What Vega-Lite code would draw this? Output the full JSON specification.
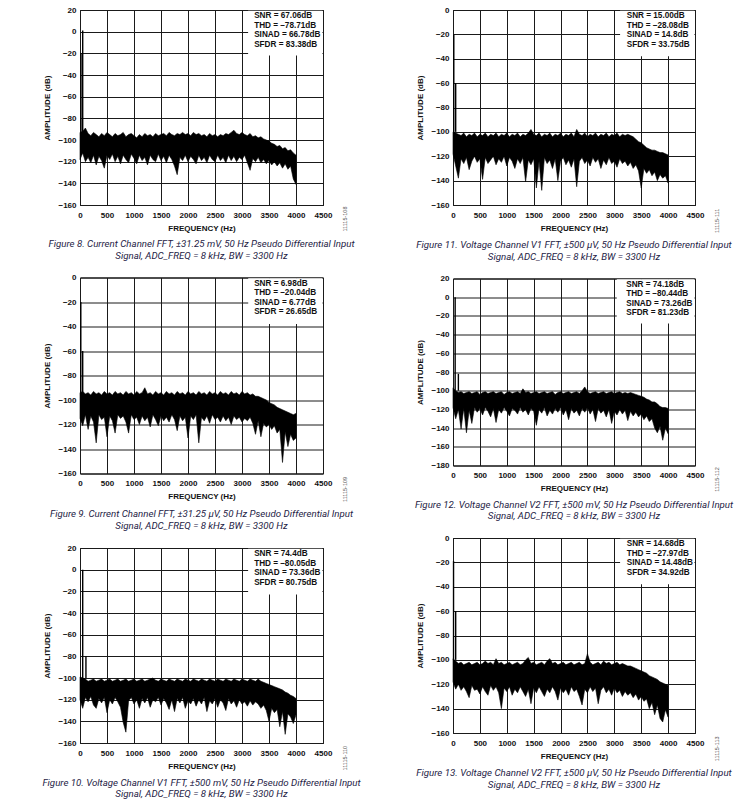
{
"$schema": "https://vega.github.io/schema/vega-lite/v6.json",
"background": "white",
"padding": {"left": 41, "top": 5, "right": 5, "bottom": 5},
"config": {
  "view": {"stroke": "black", "strokeWidth": 1},
  "axis": {"grid": true, "gridColor": "#1a1a1a", "gridWidth": 1, "gridOpacity": 1, "ticks": false, "tickSize": 0, "tickCount": 30, "format": "d", "domain": false, "labelOverlap": false,
    "labelFont": "Liberation Sans", "labelFontWeight": "bold", "labelFontSize": 8, "labelColor": "#111",
    "titleFont": "Liberation Sans", "titleFontWeight": "bold", "titleFontSize": 8, "titleColor": "#111"},
  "axisX": {"labelPadding": 6, "titlePadding": 5, "labelFlush": false},
  "axisY": {"labelPadding": 4, "titlePadding": 6},
  "title": {"orient": "bottom", "font": "Roboto", "fontStyle": "italic", "fontWeight": "normal", "fontSize": 9.7, "color": "#1e2245", "lineHeight": 11.7, "offset": 7, "anchor": "middle"},
  "text": {"font": "Liberation Sans"}
},
"datasets": {
"n1": [{"f":0,"hi":-93,"lo":-118},{"f":50,"hi":-92,"lo":-112},{"f":100,"hi":-89,"lo":-120},{"f":150,"hi":-94,"lo":-116},{"f":200,"hi":-96,"lo":-121},{"f":250,"hi":-93,"lo":-114},{"f":300,"hi":-95,"lo":-123},{"f":350,"hi":-97,"lo":-115},{"f":400,"hi":-94,"lo":-119},{"f":450,"hi":-96,"lo":-126},{"f":500,"hi":-93,"lo":-114},{"f":550,"hi":-95,"lo":-118},{"f":600,"hi":-97,"lo":-113},{"f":650,"hi":-94,"lo":-120},{"f":700,"hi":-96,"lo":-115},{"f":750,"hi":-95,"lo":-122},{"f":800,"hi":-93,"lo":-114},{"f":850,"hi":-97,"lo":-118},{"f":900,"hi":-95,"lo":-121},{"f":950,"hi":-94,"lo":-113},{"f":1000,"hi":-96,"lo":-117},{"f":1050,"hi":-98,"lo":-122},{"f":1100,"hi":-95,"lo":-114},{"f":1150,"hi":-97,"lo":-119},{"f":1200,"hi":-94,"lo":-116},{"f":1250,"hi":-96,"lo":-123},{"f":1300,"hi":-95,"lo":-114},{"f":1350,"hi":-97,"lo":-118},{"f":1400,"hi":-94,"lo":-120},{"f":1450,"hi":-96,"lo":-113},{"f":1500,"hi":-95,"lo":-119},{"f":1550,"hi":-94,"lo":-115},{"f":1600,"hi":-96,"lo":-121},{"f":1650,"hi":-93,"lo":-114},{"f":1700,"hi":-95,"lo":-118},{"f":1750,"hi":-96,"lo":-124},{"f":1800,"hi":-94,"lo":-132},{"f":1850,"hi":-95,"lo":-116},{"f":1900,"hi":-93,"lo":-119},{"f":1950,"hi":-95,"lo":-114},{"f":2000,"hi":-94,"lo":-120},{"f":2050,"hi":-96,"lo":-115},{"f":2100,"hi":-93,"lo":-118},{"f":2150,"hi":-95,"lo":-122},{"f":2200,"hi":-94,"lo":-114},{"f":2250,"hi":-96,"lo":-119},{"f":2300,"hi":-95,"lo":-116},{"f":2350,"hi":-97,"lo":-121},{"f":2400,"hi":-94,"lo":-114},{"f":2450,"hi":-96,"lo":-118},{"f":2500,"hi":-95,"lo":-120},{"f":2550,"hi":-97,"lo":-114},{"f":2600,"hi":-95,"lo":-119},{"f":2650,"hi":-96,"lo":-116},{"f":2700,"hi":-94,"lo":-121},{"f":2750,"hi":-95,"lo":-114},{"f":2800,"hi":-93,"lo":-119},{"f":2850,"hi":-91,"lo":-115},{"f":2900,"hi":-94,"lo":-120},{"f":2950,"hi":-95,"lo":-116},{"f":3000,"hi":-93,"lo":-118},{"f":3050,"hi":-95,"lo":-114},{"f":3100,"hi":-96,"lo":-121},{"f":3150,"hi":-94,"lo":-128},{"f":3200,"hi":-97,"lo":-117},{"f":3250,"hi":-96,"lo":-120},{"f":3300,"hi":-98,"lo":-116},{"f":3350,"hi":-97,"lo":-121},{"f":3400,"hi":-99,"lo":-118},{"f":3450,"hi":-100,"lo":-122},{"f":3500,"hi":-101,"lo":-119},{"f":3550,"hi":-103,"lo":-123},{"f":3600,"hi":-104,"lo":-120},{"f":3650,"hi":-106,"lo":-124},{"f":3700,"hi":-105,"lo":-121},{"f":3750,"hi":-108,"lo":-126},{"f":3800,"hi":-107,"lo":-122},{"f":3850,"hi":-110,"lo":-127},{"f":3900,"hi":-109,"lo":-124},{"f":3950,"hi":-112,"lo":-136},{"f":4000,"hi":-114,"lo":-141}],
"n2": [{"f":0,"hi":-100,"lo":-118},{"f":50,"hi":-101,"lo":-128},{"f":100,"hi":-102,"lo":-138},{"f":150,"hi":-103,"lo":-122},{"f":200,"hi":-101,"lo":-126},{"f":250,"hi":-104,"lo":-121},{"f":300,"hi":-102,"lo":-131},{"f":350,"hi":-103,"lo":-124},{"f":400,"hi":-101,"lo":-120},{"f":450,"hi":-104,"lo":-125},{"f":500,"hi":-102,"lo":-122},{"f":550,"hi":-103,"lo":-139},{"f":600,"hi":-101,"lo":-121},{"f":650,"hi":-104,"lo":-126},{"f":700,"hi":-102,"lo":-123},{"f":750,"hi":-103,"lo":-120},{"f":800,"hi":-101,"lo":-127},{"f":850,"hi":-104,"lo":-122},{"f":900,"hi":-102,"lo":-125},{"f":950,"hi":-103,"lo":-120},{"f":1000,"hi":-101,"lo":-128},{"f":1050,"hi":-104,"lo":-121},{"f":1100,"hi":-102,"lo":-124},{"f":1150,"hi":-103,"lo":-130},{"f":1200,"hi":-101,"lo":-122},{"f":1250,"hi":-104,"lo":-126},{"f":1300,"hi":-102,"lo":-121},{"f":1350,"hi":-103,"lo":-141},{"f":1400,"hi":-101,"lo":-123},{"f":1450,"hi":-98,"lo":-127},{"f":1500,"hi":-102,"lo":-122},{"f":1550,"hi":-103,"lo":-146},{"f":1600,"hi":-101,"lo":-124},{"f":1650,"hi":-104,"lo":-148},{"f":1700,"hi":-102,"lo":-121},{"f":1750,"hi":-103,"lo":-126},{"f":1800,"hi":-101,"lo":-123},{"f":1850,"hi":-104,"lo":-130},{"f":1900,"hi":-102,"lo":-122},{"f":1950,"hi":-103,"lo":-140},{"f":2000,"hi":-101,"lo":-124},{"f":2050,"hi":-104,"lo":-121},{"f":2100,"hi":-102,"lo":-127},{"f":2150,"hi":-103,"lo":-123},{"f":2200,"hi":-101,"lo":-129},{"f":2250,"hi":-104,"lo":-122},{"f":2300,"hi":-98,"lo":-145},{"f":2350,"hi":-102,"lo":-124},{"f":2400,"hi":-103,"lo":-121},{"f":2450,"hi":-101,"lo":-126},{"f":2500,"hi":-104,"lo":-123},{"f":2550,"hi":-102,"lo":-128},{"f":2600,"hi":-103,"lo":-121},{"f":2650,"hi":-101,"lo":-125},{"f":2700,"hi":-104,"lo":-122},{"f":2750,"hi":-102,"lo":-130},{"f":2800,"hi":-103,"lo":-123},{"f":2850,"hi":-101,"lo":-127},{"f":2900,"hi":-104,"lo":-121},{"f":2950,"hi":-102,"lo":-126},{"f":3000,"hi":-103,"lo":-124},{"f":3050,"hi":-101,"lo":-129},{"f":3100,"hi":-104,"lo":-122},{"f":3150,"hi":-102,"lo":-126},{"f":3200,"hi":-103,"lo":-124},{"f":3250,"hi":-102,"lo":-128},{"f":3300,"hi":-103,"lo":-125},{"f":3350,"hi":-104,"lo":-130},{"f":3400,"hi":-106,"lo":-127},{"f":3450,"hi":-108,"lo":-132},{"f":3500,"hi":-109,"lo":-146},{"f":3550,"hi":-111,"lo":-130},{"f":3600,"hi":-113,"lo":-134},{"f":3650,"hi":-114,"lo":-131},{"f":3700,"hi":-115,"lo":-136},{"f":3750,"hi":-115,"lo":-133},{"f":3800,"hi":-116,"lo":-140},{"f":3850,"hi":-117,"lo":-135},{"f":3900,"hi":-117,"lo":-138},{"f":3950,"hi":-118,"lo":-136},{"f":4000,"hi":-119,"lo":-142}],
"n3": [{"f":0,"hi":-94,"lo":-115},{"f":50,"hi":-93,"lo":-121},{"f":100,"hi":-95,"lo":-112},{"f":150,"hi":-94,"lo":-124},{"f":200,"hi":-96,"lo":-113},{"f":250,"hi":-93,"lo":-118},{"f":300,"hi":-95,"lo":-135},{"f":350,"hi":-94,"lo":-112},{"f":400,"hi":-96,"lo":-116},{"f":450,"hi":-93,"lo":-114},{"f":500,"hi":-95,"lo":-130},{"f":550,"hi":-94,"lo":-113},{"f":600,"hi":-96,"lo":-117},{"f":650,"hi":-93,"lo":-127},{"f":700,"hi":-95,"lo":-112},{"f":750,"hi":-94,"lo":-115},{"f":800,"hi":-96,"lo":-113},{"f":850,"hi":-93,"lo":-118},{"f":900,"hi":-95,"lo":-127},{"f":950,"hi":-94,"lo":-112},{"f":1000,"hi":-96,"lo":-116},{"f":1050,"hi":-93,"lo":-114},{"f":1100,"hi":-95,"lo":-120},{"f":1150,"hi":-94,"lo":-113},{"f":1200,"hi":-90,"lo":-117},{"f":1250,"hi":-95,"lo":-114},{"f":1300,"hi":-94,"lo":-122},{"f":1350,"hi":-96,"lo":-112},{"f":1400,"hi":-93,"lo":-116},{"f":1450,"hi":-95,"lo":-121},{"f":1500,"hi":-94,"lo":-113},{"f":1550,"hi":-96,"lo":-117},{"f":1600,"hi":-93,"lo":-114},{"f":1650,"hi":-95,"lo":-118},{"f":1700,"hi":-94,"lo":-112},{"f":1750,"hi":-96,"lo":-116},{"f":1800,"hi":-93,"lo":-125},{"f":1850,"hi":-95,"lo":-113},{"f":1900,"hi":-94,"lo":-117},{"f":1950,"hi":-96,"lo":-114},{"f":2000,"hi":-93,"lo":-131},{"f":2050,"hi":-95,"lo":-113},{"f":2100,"hi":-94,"lo":-116},{"f":2150,"hi":-96,"lo":-112},{"f":2200,"hi":-93,"lo":-135},{"f":2250,"hi":-95,"lo":-114},{"f":2300,"hi":-94,"lo":-117},{"f":2350,"hi":-96,"lo":-113},{"f":2400,"hi":-93,"lo":-119},{"f":2450,"hi":-95,"lo":-112},{"f":2500,"hi":-94,"lo":-116},{"f":2550,"hi":-96,"lo":-114},{"f":2600,"hi":-93,"lo":-118},{"f":2650,"hi":-95,"lo":-113},{"f":2700,"hi":-94,"lo":-117},{"f":2750,"hi":-96,"lo":-114},{"f":2800,"hi":-93,"lo":-120},{"f":2850,"hi":-95,"lo":-113},{"f":2900,"hi":-94,"lo":-116},{"f":2950,"hi":-96,"lo":-114},{"f":3000,"hi":-93,"lo":-118},{"f":3050,"hi":-95,"lo":-115},{"f":3100,"hi":-94,"lo":-117},{"f":3150,"hi":-96,"lo":-114},{"f":3200,"hi":-95,"lo":-119},{"f":3250,"hi":-97,"lo":-128},{"f":3300,"hi":-97,"lo":-117},{"f":3350,"hi":-98,"lo":-130},{"f":3400,"hi":-99,"lo":-119},{"f":3450,"hi":-100,"lo":-122},{"f":3500,"hi":-102,"lo":-120},{"f":3550,"hi":-103,"lo":-124},{"f":3600,"hi":-104,"lo":-121},{"f":3650,"hi":-106,"lo":-127},{"f":3700,"hi":-107,"lo":-124},{"f":3750,"hi":-108,"lo":-151},{"f":3800,"hi":-109,"lo":-126},{"f":3850,"hi":-110,"lo":-138},{"f":3900,"hi":-111,"lo":-128},{"f":3950,"hi":-112,"lo":-133},{"f":4000,"hi":-111,"lo":-131}],
"n4": [{"f":0,"hi":-97,"lo":-118},{"f":50,"hi":-100,"lo":-130},{"f":100,"hi":-102,"lo":-120},{"f":150,"hi":-101,"lo":-141},{"f":200,"hi":-103,"lo":-119},{"f":250,"hi":-102,"lo":-145},{"f":300,"hi":-101,"lo":-121},{"f":350,"hi":-103,"lo":-135},{"f":400,"hi":-102,"lo":-118},{"f":450,"hi":-101,"lo":-123},{"f":500,"hi":-104,"lo":-119},{"f":550,"hi":-102,"lo":-126},{"f":600,"hi":-101,"lo":-118},{"f":650,"hi":-103,"lo":-122},{"f":700,"hi":-102,"lo":-128},{"f":750,"hi":-101,"lo":-119},{"f":800,"hi":-103,"lo":-134},{"f":850,"hi":-102,"lo":-120},{"f":900,"hi":-101,"lo":-124},{"f":950,"hi":-104,"lo":-118},{"f":1000,"hi":-102,"lo":-122},{"f":1050,"hi":-101,"lo":-127},{"f":1100,"hi":-103,"lo":-119},{"f":1150,"hi":-102,"lo":-121},{"f":1200,"hi":-101,"lo":-125},{"f":1250,"hi":-103,"lo":-118},{"f":1300,"hi":-98,"lo":-123},{"f":1350,"hi":-102,"lo":-120},{"f":1400,"hi":-101,"lo":-126},{"f":1450,"hi":-103,"lo":-119},{"f":1500,"hi":-102,"lo":-122},{"f":1550,"hi":-101,"lo":-137},{"f":1600,"hi":-103,"lo":-120},{"f":1650,"hi":-102,"lo":-124},{"f":1700,"hi":-101,"lo":-118},{"f":1750,"hi":-103,"lo":-127},{"f":1800,"hi":-102,"lo":-121},{"f":1850,"hi":-101,"lo":-125},{"f":1900,"hi":-104,"lo":-119},{"f":1950,"hi":-102,"lo":-123},{"f":2000,"hi":-101,"lo":-118},{"f":2050,"hi":-103,"lo":-126},{"f":2100,"hi":-102,"lo":-120},{"f":2150,"hi":-101,"lo":-131},{"f":2200,"hi":-103,"lo":-119},{"f":2250,"hi":-102,"lo":-124},{"f":2300,"hi":-101,"lo":-121},{"f":2350,"hi":-103,"lo":-127},{"f":2400,"hi":-100,"lo":-119},{"f":2450,"hi":-96,"lo":-123},{"f":2500,"hi":-101,"lo":-118},{"f":2550,"hi":-103,"lo":-125},{"f":2600,"hi":-102,"lo":-120},{"f":2650,"hi":-101,"lo":-133},{"f":2700,"hi":-103,"lo":-119},{"f":2750,"hi":-102,"lo":-124},{"f":2800,"hi":-101,"lo":-121},{"f":2850,"hi":-103,"lo":-128},{"f":2900,"hi":-102,"lo":-120},{"f":2950,"hi":-101,"lo":-135},{"f":3000,"hi":-103,"lo":-122},{"f":3050,"hi":-102,"lo":-126},{"f":3100,"hi":-101,"lo":-120},{"f":3150,"hi":-103,"lo":-125},{"f":3200,"hi":-102,"lo":-121},{"f":3250,"hi":-103,"lo":-132},{"f":3300,"hi":-102,"lo":-122},{"f":3350,"hi":-103,"lo":-127},{"f":3400,"hi":-104,"lo":-123},{"f":3450,"hi":-105,"lo":-128},{"f":3500,"hi":-106,"lo":-125},{"f":3550,"hi":-107,"lo":-131},{"f":3600,"hi":-109,"lo":-127},{"f":3650,"hi":-110,"lo":-133},{"f":3700,"hi":-112,"lo":-130},{"f":3750,"hi":-112,"lo":-140},{"f":3800,"hi":-114,"lo":-145},{"f":3850,"hi":-117,"lo":-138},{"f":3900,"hi":-118,"lo":-153},{"f":3950,"hi":-118,"lo":-140},{"f":4000,"hi":-119,"lo":-146}],
"n5": [{"f":0,"hi":-99,"lo":-120},{"f":50,"hi":-100,"lo":-128},{"f":100,"hi":-101,"lo":-118},{"f":150,"hi":-103,"lo":-122},{"f":200,"hi":-102,"lo":-117},{"f":250,"hi":-101,"lo":-125},{"f":300,"hi":-103,"lo":-128},{"f":350,"hi":-102,"lo":-119},{"f":400,"hi":-101,"lo":-123},{"f":450,"hi":-103,"lo":-118},{"f":500,"hi":-102,"lo":-132},{"f":550,"hi":-101,"lo":-120},{"f":600,"hi":-103,"lo":-124},{"f":650,"hi":-102,"lo":-118},{"f":700,"hi":-101,"lo":-122},{"f":750,"hi":-103,"lo":-127},{"f":800,"hi":-102,"lo":-141},{"f":850,"hi":-101,"lo":-150},{"f":900,"hi":-103,"lo":-121},{"f":950,"hi":-102,"lo":-118},{"f":1000,"hi":-101,"lo":-124},{"f":1050,"hi":-103,"lo":-120},{"f":1100,"hi":-102,"lo":-128},{"f":1150,"hi":-101,"lo":-119},{"f":1200,"hi":-103,"lo":-123},{"f":1250,"hi":-102,"lo":-118},{"f":1300,"hi":-101,"lo":-127},{"f":1350,"hi":-100,"lo":-120},{"f":1400,"hi":-102,"lo":-122},{"f":1450,"hi":-103,"lo":-118},{"f":1500,"hi":-101,"lo":-125},{"f":1550,"hi":-102,"lo":-119},{"f":1600,"hi":-103,"lo":-123},{"f":1650,"hi":-101,"lo":-129},{"f":1700,"hi":-102,"lo":-120},{"f":1750,"hi":-103,"lo":-131},{"f":1800,"hi":-101,"lo":-119},{"f":1850,"hi":-102,"lo":-123},{"f":1900,"hi":-103,"lo":-118},{"f":1950,"hi":-101,"lo":-128},{"f":2000,"hi":-102,"lo":-121},{"f":2050,"hi":-103,"lo":-124},{"f":2100,"hi":-101,"lo":-119},{"f":2150,"hi":-102,"lo":-126},{"f":2200,"hi":-103,"lo":-120},{"f":2250,"hi":-101,"lo":-124},{"f":2300,"hi":-102,"lo":-118},{"f":2350,"hi":-103,"lo":-131},{"f":2400,"hi":-101,"lo":-121},{"f":2450,"hi":-102,"lo":-124},{"f":2500,"hi":-103,"lo":-119},{"f":2550,"hi":-101,"lo":-127},{"f":2600,"hi":-102,"lo":-120},{"f":2650,"hi":-103,"lo":-123},{"f":2700,"hi":-101,"lo":-130},{"f":2750,"hi":-102,"lo":-119},{"f":2800,"hi":-103,"lo":-124},{"f":2850,"hi":-101,"lo":-121},{"f":2900,"hi":-102,"lo":-127},{"f":2950,"hi":-103,"lo":-120},{"f":3000,"hi":-101,"lo":-124},{"f":3050,"hi":-102,"lo":-122},{"f":3100,"hi":-103,"lo":-126},{"f":3150,"hi":-101,"lo":-121},{"f":3200,"hi":-102,"lo":-125},{"f":3250,"hi":-103,"lo":-122},{"f":3300,"hi":-101,"lo":-124},{"f":3350,"hi":-103,"lo":-128},{"f":3400,"hi":-104,"lo":-125},{"f":3450,"hi":-105,"lo":-130},{"f":3500,"hi":-106,"lo":-140},{"f":3550,"hi":-107,"lo":-128},{"f":3600,"hi":-108,"lo":-132},{"f":3650,"hi":-109,"lo":-129},{"f":3700,"hi":-110,"lo":-145},{"f":3750,"hi":-111,"lo":-131},{"f":3800,"hi":-113,"lo":-152},{"f":3850,"hi":-114,"lo":-133},{"f":3900,"hi":-116,"lo":-136},{"f":3950,"hi":-117,"lo":-142},{"f":4000,"hi":-119,"lo":-134}],
"n6": [{"f":0,"hi":-99,"lo":-118},{"f":50,"hi":-101,"lo":-124},{"f":100,"hi":-103,"lo":-120},{"f":150,"hi":-102,"lo":-125},{"f":200,"hi":-104,"lo":-122},{"f":250,"hi":-103,"lo":-126},{"f":300,"hi":-102,"lo":-131},{"f":350,"hi":-104,"lo":-121},{"f":400,"hi":-103,"lo":-125},{"f":450,"hi":-102,"lo":-124},{"f":500,"hi":-104,"lo":-128},{"f":550,"hi":-103,"lo":-122},{"f":600,"hi":-101,"lo":-126},{"f":650,"hi":-103,"lo":-129},{"f":700,"hi":-102,"lo":-121},{"f":750,"hi":-104,"lo":-125},{"f":800,"hi":-99,"lo":-122},{"f":850,"hi":-103,"lo":-127},{"f":900,"hi":-102,"lo":-140},{"f":950,"hi":-104,"lo":-123},{"f":1000,"hi":-103,"lo":-126},{"f":1050,"hi":-102,"lo":-122},{"f":1100,"hi":-104,"lo":-129},{"f":1150,"hi":-103,"lo":-124},{"f":1200,"hi":-102,"lo":-127},{"f":1250,"hi":-104,"lo":-122},{"f":1300,"hi":-103,"lo":-126},{"f":1350,"hi":-100,"lo":-130},{"f":1400,"hi":-98,"lo":-124},{"f":1450,"hi":-103,"lo":-136},{"f":1500,"hi":-102,"lo":-123},{"f":1550,"hi":-104,"lo":-127},{"f":1600,"hi":-103,"lo":-122},{"f":1650,"hi":-102,"lo":-126},{"f":1700,"hi":-104,"lo":-130},{"f":1750,"hi":-101,"lo":-124},{"f":1800,"hi":-99,"lo":-127},{"f":1850,"hi":-103,"lo":-122},{"f":1900,"hi":-102,"lo":-126},{"f":1950,"hi":-104,"lo":-133},{"f":2000,"hi":-103,"lo":-123},{"f":2050,"hi":-102,"lo":-127},{"f":2100,"hi":-104,"lo":-124},{"f":2150,"hi":-103,"lo":-129},{"f":2200,"hi":-102,"lo":-122},{"f":2250,"hi":-104,"lo":-126},{"f":2300,"hi":-103,"lo":-124},{"f":2350,"hi":-102,"lo":-130},{"f":2400,"hi":-104,"lo":-137},{"f":2450,"hi":-103,"lo":-124},{"f":2500,"hi":-95,"lo":-127},{"f":2550,"hi":-102,"lo":-122},{"f":2600,"hi":-104,"lo":-126},{"f":2650,"hi":-103,"lo":-123},{"f":2700,"hi":-102,"lo":-136},{"f":2750,"hi":-104,"lo":-125},{"f":2800,"hi":-101,"lo":-122},{"f":2850,"hi":-103,"lo":-127},{"f":2900,"hi":-102,"lo":-124},{"f":2950,"hi":-104,"lo":-129},{"f":3000,"hi":-103,"lo":-123},{"f":3050,"hi":-102,"lo":-127},{"f":3100,"hi":-104,"lo":-125},{"f":3150,"hi":-103,"lo":-130},{"f":3200,"hi":-104,"lo":-126},{"f":3250,"hi":-105,"lo":-129},{"f":3300,"hi":-105,"lo":-127},{"f":3350,"hi":-106,"lo":-131},{"f":3400,"hi":-107,"lo":-128},{"f":3450,"hi":-108,"lo":-133},{"f":3500,"hi":-109,"lo":-130},{"f":3550,"hi":-110,"lo":-134},{"f":3600,"hi":-111,"lo":-132},{"f":3650,"hi":-113,"lo":-140},{"f":3700,"hi":-114,"lo":-135},{"f":3750,"hi":-115,"lo":-145},{"f":3800,"hi":-116,"lo":-137},{"f":3850,"hi":-118,"lo":-148},{"f":3900,"hi":-119,"lo":-151},{"f":3950,"hi":-120,"lo":-141},{"f":4000,"hi":-121,"lo":-147}],
"s1": [{"f":18,"top":-20},{"f":50,"top":1}],
"s2": [{"f":15,"top":-20},{"f":50,"top":-60}],
"s3": [{"f":15,"top":-20},{"f":50,"top":-60}],
"s4": [{"f":40,"top":0},{"f":100,"top":-82}],
"s5": [{"f":50,"top":0},{"f":110,"top":-80}],
"s6": [{"f":10,"top":-19},{"f":50,"top":-60}],
"one": [{}]
},
"spacing": 52,
"hconcat": [
{"spacing": 11.5, "vconcat": [
 {"width": 243, "height": 195,
  "title": {"text": ["Figure 8. Current Channel FFT, ±31.25 mV, 50 Hz Pseudo Differential Input", "Signal, ADC_FREQ = 8 kHz, BW = 3300 Hz"]},
  "layer": [
   {"data": {"name": "n1"}, "mark": {"type": "area", "color": "black", "stroke": "black", "strokeWidth": 0.6},
    "encoding": {"x": {"field": "f", "type": "quantitative", "scale": {"domain": [0, 4500], "nice": false}, "axis": {"values": [0,500,1000,1500,2000,2500,3000,3500,4000,4500], "title": "FREQUENCY (Hz)"}},
     "y": {"field": "hi", "type": "quantitative", "scale": {"domain": [-160, 20], "nice": false}, "axis": {"values": [20,0,-20,-40,-60,-80,-100,-120,-140,-160], "title": "AMPLITUDE (dB)"}},
     "y2": {"field": "lo"}}},
   {"data": {"name": "s1"}, "mark": {"type": "rule", "color": "black", "strokeWidth": 1.4},
    "encoding": {"x": {"field": "f", "type": "quantitative"}, "y": {"field": "top", "type": "quantitative"}, "y2": {"datum": -100}}},
   {"data": {"name": "one"}, "mark": {"type": "rect", "fill": "white"},
    "encoding": {"x": {"datum": 3113}, "x2": {"datum": 4490}, "y": {"datum": 19.2}, "y2": {"datum": -22}}},
   {"data": {"name": "one"}, "mark": {"type": "text", "text": ["SNR = 67.06dB", "THD = –78.71dB", "SINAD = 66.78dB", "SFDR = 83.38dB"], "align": "left", "baseline": "top", "lineHeight": 9.6, "fontWeight": "bold", "fontSize": 8.2, "dy": 2, "color": "#111"},
    "encoding": {"x": {"datum": 3225}, "y": {"datum": 20}}},
   {"data": {"name": "one"}, "mark": {"type": "text", "text": "11115-108", "angle": 270, "fontSize": 5.5, "color": "#555", "align": "center", "baseline": "middle"},
    "encoding": {"x": {"datum": 4905}, "y": {"datum": -173}}}
  ]},
 {"width": 243, "height": 196,
  "title": {"text": ["Figure 9. Current Channel FFT, ±31.25 μV, 50 Hz Pseudo Differential Input", "Signal, ADC_FREQ = 8 kHz, BW = 3300 Hz"]},
  "layer": [
   {"data": {"name": "n3"}, "mark": {"type": "area", "color": "black", "stroke": "black", "strokeWidth": 0.6},
    "encoding": {"x": {"field": "f", "type": "quantitative", "scale": {"domain": [0, 4500], "nice": false}, "axis": {"values": [0,500,1000,1500,2000,2500,3000,3500,4000,4500], "title": "FREQUENCY (Hz)"}},
     "y": {"field": "hi", "type": "quantitative", "scale": {"domain": [-160, 0], "nice": false}, "axis": {"values": [0,-20,-40,-60,-80,-100,-120,-140,-160], "title": "AMPLITUDE (dB)"}},
     "y2": {"field": "lo"}}},
   {"data": {"name": "s3"}, "mark": {"type": "rule", "color": "black", "strokeWidth": 1.4},
    "encoding": {"x": {"field": "f", "type": "quantitative"}, "y": {"field": "top", "type": "quantitative"}, "y2": {"datum": -100}}},
   {"data": {"name": "one"}, "mark": {"type": "rect", "fill": "white"},
    "encoding": {"x": {"datum": 3115}, "x2": {"datum": 4490}, "y": {"datum": -0.7}, "y2": {"datum": -38}}},
   {"data": {"name": "one"}, "mark": {"type": "text", "text": ["SNR = 6.98dB", "THD = –20.04dB", "SINAD = 6.77dB", "SFDR = 26.65dB"], "align": "left", "baseline": "top", "lineHeight": 9.6, "fontWeight": "bold", "fontSize": 8.2, "dy": 2, "color": "#111"},
    "encoding": {"x": {"datum": 3225}, "y": {"datum": 0}}},
   {"data": {"name": "one"}, "mark": {"type": "text", "text": "11115-109", "angle": 270, "fontSize": 5.5, "color": "#555", "align": "center", "baseline": "middle"},
    "encoding": {"x": {"datum": 4905}, "y": {"datum": -173}}}
  ]},
 {"width": 243, "height": 195,
  "title": {"text": ["Figure 10. Voltage Channel V1 FFT, ±500 mV, 50 Hz Pseudo Differential Input", "Signal, ADC_FREQ = 8 kHz, BW = 3300 Hz"]},
  "layer": [
   {"data": {"name": "n5"}, "mark": {"type": "area", "color": "black", "stroke": "black", "strokeWidth": 0.6},
    "encoding": {"x": {"field": "f", "type": "quantitative", "scale": {"domain": [0, 4500], "nice": false}, "axis": {"values": [0,500,1000,1500,2000,2500,3000,3500,4000,4500], "title": "FREQUENCY (Hz)"}},
     "y": {"field": "hi", "type": "quantitative", "scale": {"domain": [-160, 20], "nice": false}, "axis": {"values": [20,0,-20,-40,-60,-80,-100,-120,-140,-160], "title": "AMPLITUDE (dB)"}},
     "y2": {"field": "lo"}}},
   {"data": {"name": "s5"}, "mark": {"type": "rule", "color": "black", "strokeWidth": 1.4},
    "encoding": {"x": {"field": "f", "type": "quantitative"}, "y": {"field": "top", "type": "quantitative"}, "y2": {"datum": -100}}},
   {"data": {"name": "one"}, "mark": {"type": "rect", "fill": "white"},
    "encoding": {"x": {"datum": 3113}, "x2": {"datum": 4490}, "y": {"datum": 19.2}, "y2": {"datum": -23}}},
   {"data": {"name": "one"}, "mark": {"type": "text", "text": ["SNR = 74.4dB", "THD = –80.05dB", "SINAD = 73.36dB", "SFDR = 80.75dB"], "align": "left", "baseline": "top", "lineHeight": 9.6, "fontWeight": "bold", "fontSize": 8.2, "dy": 2, "color": "#111"},
    "encoding": {"x": {"datum": 3225}, "y": {"datum": 20}}},
   {"data": {"name": "one"}, "mark": {"type": "text", "text": "11115-110", "angle": 270, "fontSize": 5.5, "color": "#555", "align": "center", "baseline": "middle"},
    "encoding": {"x": {"datum": 4905}, "y": {"datum": -174}}}
  ]}
]},
{"spacing": 11.5, "vconcat": [
 {"width": 242, "height": 195,
  "title": {"text": ["Figure 11. Voltage Channel V1 FFT, ±500 μV, 50 Hz Pseudo Differential Input", "Signal, ADC_FREQ = 8 kHz, BW = 3300 Hz"]},
  "layer": [
   {"data": {"name": "n2"}, "mark": {"type": "area", "color": "black", "stroke": "black", "strokeWidth": 0.6},
    "encoding": {"x": {"field": "f", "type": "quantitative", "scale": {"domain": [0, 4500], "nice": false}, "axis": {"values": [0,500,1000,1500,2000,2500,3000,3500,4000,4500], "title": "FREQUENCY (Hz)"}},
     "y": {"field": "hi", "type": "quantitative", "scale": {"domain": [-160, 0], "nice": false}, "axis": {"values": [0,-20,-40,-60,-80,-100,-120,-140,-160], "title": "AMPLITUDE (dB)"}},
     "y2": {"field": "lo"}}},
   {"data": {"name": "s2"}, "mark": {"type": "rule", "color": "black", "strokeWidth": 1.4},
    "encoding": {"x": {"field": "f", "type": "quantitative"}, "y": {"field": "top", "type": "quantitative"}, "y2": {"datum": -100}}},
   {"data": {"name": "one"}, "mark": {"type": "rect", "fill": "white"},
    "encoding": {"x": {"datum": 3107}, "x2": {"datum": 4490}, "y": {"datum": -0.7}, "y2": {"datum": -38}}},
   {"data": {"name": "one"}, "mark": {"type": "text", "text": ["SNR = 15.00dB", "THD = –28.08dB", "SINAD = 14.8dB", "SFDR = 33.75dB"], "align": "left", "baseline": "top", "lineHeight": 9.6, "fontWeight": "bold", "fontSize": 8.2, "dy": 2, "color": "#111"},
    "encoding": {"x": {"datum": 3230}, "y": {"datum": 0}}},
   {"data": {"name": "one"}, "mark": {"type": "text", "text": "11115-111", "angle": 270, "fontSize": 5.5, "color": "#555", "align": "center", "baseline": "middle"},
    "encoding": {"x": {"datum": 4905}, "y": {"datum": -173}}}
  ]},
 {"width": 242, "height": 187,
  "title": {"text": ["Figure 12. Voltage Channel V2 FFT, ±500 mV, 50 Hz Pseudo Differential Input", "Signal, ADC_FREQ = 8 kHz, BW = 3300 Hz"]},
  "layer": [
   {"data": {"name": "n4"}, "mark": {"type": "area", "color": "black", "stroke": "black", "strokeWidth": 0.6},
    "encoding": {"x": {"field": "f", "type": "quantitative", "scale": {"domain": [0, 4500], "nice": false}, "axis": {"values": [0,500,1000,1500,2000,2500,3000,3500,4000,4500], "title": "FREQUENCY (Hz)"}},
     "y": {"field": "hi", "type": "quantitative", "scale": {"domain": [-180, 20], "nice": false}, "axis": {"values": [20,0,-20,-40,-60,-80,-100,-120,-140,-160,-180], "title": "AMPLITUDE (dB)"}},
     "y2": {"field": "lo"}}},
   {"data": {"name": "s4"}, "mark": {"type": "rule", "color": "black", "strokeWidth": 1.4},
    "encoding": {"x": {"field": "f", "type": "quantitative"}, "y": {"field": "top", "type": "quantitative"}, "y2": {"datum": -100}}},
   {"data": {"name": "one"}, "mark": {"type": "rect", "fill": "white"},
    "encoding": {"x": {"datum": 3045}, "x2": {"datum": 4490}, "y": {"datum": 19.1}, "y2": {"datum": -28}}},
   {"data": {"name": "one"}, "mark": {"type": "text", "text": ["SNR = 74.18dB", "THD = –80.44dB", "SINAD = 73.26dB", "SFDR = 81.23dB"], "align": "left", "baseline": "top", "lineHeight": 9.6, "fontWeight": "bold", "fontSize": 8.2, "dy": 2, "color": "#111"},
    "encoding": {"x": {"datum": 3220}, "y": {"datum": 20}}},
   {"data": {"name": "one"}, "mark": {"type": "text", "text": "11115-112", "angle": 270, "fontSize": 5.5, "color": "#555", "align": "center", "baseline": "middle"},
    "encoding": {"x": {"datum": 4905}, "y": {"datum": -195}}}
  ]},
 {"width": 242, "height": 195,
  "title": {"text": ["Figure 13. Voltage Channel V2 FFT, ±500 μV, 50 Hz Pseudo Differential Input", "Signal, ADC_FREQ = 8 kHz, BW = 3300 Hz"]},
  "layer": [
   {"data": {"name": "n6"}, "mark": {"type": "area", "color": "black", "stroke": "black", "strokeWidth": 0.6},
    "encoding": {"x": {"field": "f", "type": "quantitative", "scale": {"domain": [0, 4500], "nice": false}, "axis": {"values": [0,500,1000,1500,2000,2500,3000,3500,4000,4500], "title": "FREQUENCY (Hz)"}},
     "y": {"field": "hi", "type": "quantitative", "scale": {"domain": [-160, 0], "nice": false}, "axis": {"values": [0,-20,-40,-60,-80,-100,-120,-140,-160], "title": "AMPLITUDE (dB)"}},
     "y2": {"field": "lo"}}},
   {"data": {"name": "s6"}, "mark": {"type": "rule", "color": "black", "strokeWidth": 1.4},
    "encoding": {"x": {"field": "f", "type": "quantitative"}, "y": {"field": "top", "type": "quantitative"}, "y2": {"datum": -100}}},
   {"data": {"name": "one"}, "mark": {"type": "rect", "fill": "white"},
    "encoding": {"x": {"datum": 3107}, "x2": {"datum": 4490}, "y": {"datum": -0.7}, "y2": {"datum": -38}}},
   {"data": {"name": "one"}, "mark": {"type": "text", "text": ["SNR = 14.68dB", "THD = –27.97dB", "SINAD = 14.48dB", "SFDR = 34.92dB"], "align": "left", "baseline": "top", "lineHeight": 9.6, "fontWeight": "bold", "fontSize": 8.2, "dy": 2, "color": "#111"},
    "encoding": {"x": {"datum": 3230}, "y": {"datum": 0}}},
   {"data": {"name": "one"}, "mark": {"type": "text", "text": "11115-113", "angle": 270, "fontSize": 5.5, "color": "#555", "align": "center", "baseline": "middle"},
    "encoding": {"x": {"datum": 4905}, "y": {"datum": -173}}}
  ]}
]}
]
}
